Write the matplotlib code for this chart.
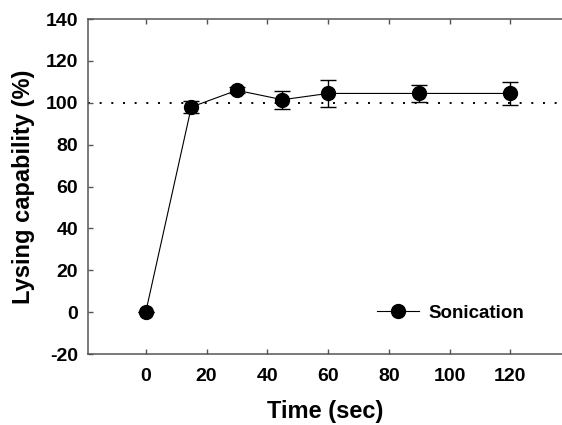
import matplotlib
matplotlib.use("Agg")
import matplotlib.pyplot as plt

# data
time_sec = [0, 15, 30, 45, 60, 90, 120]
lysing = [0, 98, 106, 101.5, 104.5, 104.5, 104.5]
lysing_err = [0, 3, 1.5, 4.2, 6.5, 4.2, 5.7]
ref_level = 100

x_ticks = [0, 20, 40, 60, 80, 100, 120]
y_ticks = [-20, 0, 20, 40, 60, 80, 100, 120, 140]

plt.rcParams['font.family'] = ['Liberation Sans', 'DejaVu Sans']
plt.rcParams['font.weight'] = 'bold'
plt.rcParams['axes.unicode_minus'] = False

SPINE = '#555555'

fig = plt.figure(figsize=(5.62, 4.25), dpi=100)
ax = fig.add_axes([0.1566, 0.167, 0.8434, 0.788])

ax.axhline(ref_level, color='black', lw=1.4, ls=(0, (1, 5)), zorder=1)

ax.errorbar(time_sec, lysing, yerr=lysing_err, fmt='none', ecolor='black',
            capsize=6, capthick=1.0, elinewidth=1.0, zorder=2)
ax.plot(time_sec, lysing, color='black', lw=0.8, marker='o', markersize=10,
        label='Sonication', zorder=3)

ax.set_xlim(-19, 137)
ax.set_ylim(-20, 140)
ax.set_xticks(x_ticks)
ax.set_yticks(y_ticks)

ax.spines['right'].set_visible(False)
for s in ('left', 'top', 'bottom'):
    ax.spines[s].set_color(SPINE)
    ax.spines[s].set_linewidth(1.1)

ax.tick_params(axis='x', direction='in', length=3.5, width=1, color=SPINE,
               top=True, labelsize=14, pad=10)
ax.tick_params(axis='y', direction='in', length=3.5, width=1, color=SPINE,
               labelsize=14, pad=7)

ax.set_xlabel('Time (sec)', fontsize=17, fontweight='bold', labelpad=11)
ax.set_ylabel('Lysing capability (%)', fontsize=17, fontweight='bold', labelpad=8)

ax.legend(loc='center left', bbox_to_anchor=(0.61, 0.122), frameon=False,
          fontsize=13.5, handlelength=2.25, handletextpad=0.5,
          borderpad=0, borderaxespad=0)

fig.savefig('out.png', dpi=100, facecolor='white')
